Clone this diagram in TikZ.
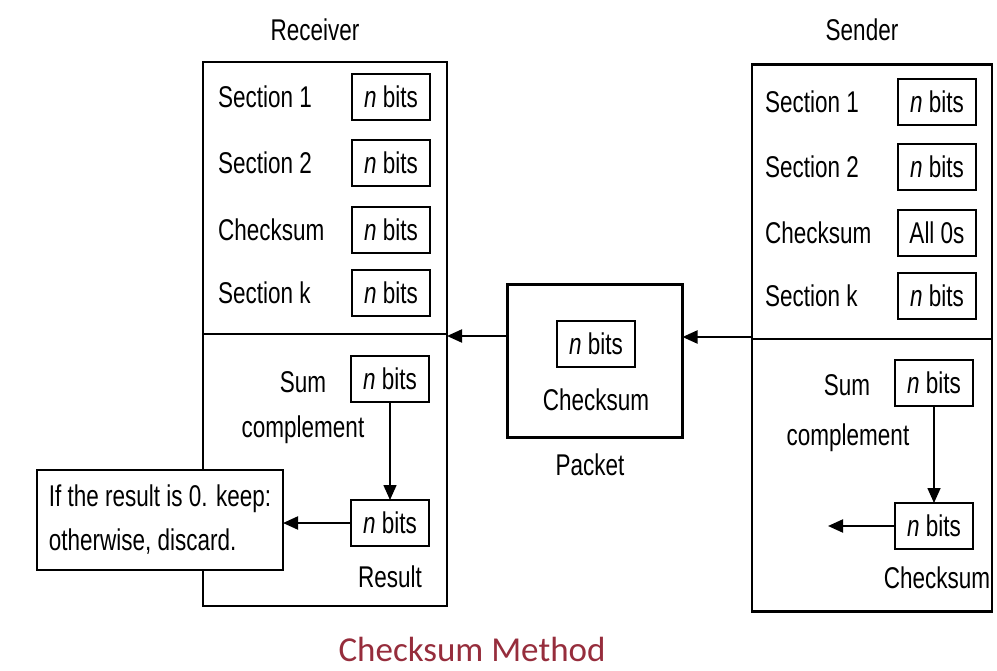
\documentclass[tikz,border=0pt]{standalone}
\usepackage{fontspec}
\setmainfont{Liberation Sans}[FakeStretch=0.75]
\newfontfamily\captionfont{Carlito}
\usetikzlibrary{arrows.meta}
\definecolor{CaptionRed}{RGB}{150,45,60}

\begin{document}
\begin{tikzpicture}[x=1pt,y=-1pt]
  \tikzset{PanelStyle/.style = {
    shape         = rectangle,
    draw          = black,
    line width    = 2.4pt,
    inner sep     = 0pt,
    outer sep     = 0pt
    }
  }
  \tikzset{BitsStyle/.style = {
    shape         = rectangle,
    draw          = black,
    fill          = white,
    line width    = 2.2pt,
    text          = black,
    inner sep     = 0pt,
    outer sep     = 0pt,
    minimum width = 78pt,
    minimum height= 46pt,
    font          = \fontsize{30}{34}\selectfont
    }
  }
  \tikzset{LabelStyle/.style = {
    inner sep     = 0pt,
    text          = black,
    font          = \fontsize{30}{34}\selectfont
    }
  }
  \tikzset{ArrowStyle/.style = {
    draw          = black,
    line width    = 2pt,
    -{Triangle[length=15pt,width=13pt]}
    }
  }
  \useasboundingbox (0,0) rectangle (997,671);

  % receiver side
  \node[LabelStyle](RecvTitle) at (315,30) {Receiver};
  \node[PanelStyle, minimum width=244pt, minimum height=544pt](Recv) at (325,334) {};
  \draw[line width=2.4pt] (Recv.west |- 0,334) -- (Recv.east |- 0,334);
  \node[LabelStyle, anchor=west](RS1) at (218,97) {Section 1};
  \node[LabelStyle, anchor=west](RS2) at (218,163) {Section 2};
  \node[LabelStyle, anchor=west](RCk) at (218,230) {Checksum};
  \node[LabelStyle, anchor=west](RSk) at (218,293) {Section k};
  \node[BitsStyle](RB1) at (391,97) {\textit{n} bits};
  \node[BitsStyle](RB2) at (391,163) {\textit{n} bits};
  \node[BitsStyle](RB3) at (391,230) {\textit{n} bits};
  \node[BitsStyle](RB4) at (391,293) {\textit{n} bits};
  \node[LabelStyle](RSum) at (303,382) {Sum};
  \node[LabelStyle](RComp) at (303,430) {complement};
  \node[BitsStyle](RSumBox) at (390,379) {\textit{n} bits};
  \node[BitsStyle](RResBox) at (390,523) {\textit{n} bits};
  \node[LabelStyle](RRes) at (390,577) {Result};
  \node[PanelStyle, fill=white, minimum width=246pt, minimum height=100pt,
    align=left, font=\fontsize{30}{44}\selectfont](Decide) at (160,520)
    {If the result is 0. keep:\\otherwise, discard.};

  % packet
  \node[PanelStyle, minimum width=175pt, minimum height=153pt](Packet) at (595,361) {};
  \node[BitsStyle](PBits) at (596,344) {\textit{n} bits};
  \node[LabelStyle](PCk) at (596,400) {Checksum};
  \node[LabelStyle](PTitle) at (590,465) {Packet};

  % sender side
  \node[LabelStyle](SendTitle) at (862,30) {Sender};
  \node[PanelStyle, minimum width=240pt, minimum height=547pt](Send) at (872,338) {};
  \draw[line width=2.4pt] (Send.west |- 0,339) -- (Send.east |- 0,339);
  \node[LabelStyle, anchor=west](SS1) at (765,102) {Section 1};
  \node[LabelStyle, anchor=west](SS2) at (765,167) {Section 2};
  \node[LabelStyle, anchor=west](SCk) at (765,233) {Checksum};
  \node[LabelStyle, anchor=west](SSk) at (765,296) {Section k};
  \node[BitsStyle](SB1) at (937,102) {\textit{n} bits};
  \node[BitsStyle](SB2) at (937,167) {\textit{n} bits};
  \node[BitsStyle](SB3) at (937,233) {All 0s};
  \node[BitsStyle](SB4) at (937,296) {\textit{n} bits};
  \node[LabelStyle](SSum) at (847,385) {Sum};
  \node[LabelStyle](SComp) at (848,438) {complement};
  \node[BitsStyle](SSumBox) at (934,383) {\textit{n} bits};
  \node[BitsStyle](SCkBox) at (934,526) {\textit{n} bits};
  \node[LabelStyle](SCkLabel) at (937,578) {Checksum};
  \coordinate (SOut) at (828,526);

  % arrows
  \coordinate (SendIn) at (Send.west |- 0,337);
  \coordinate (RecvIn) at (Recv.east |- 0,336);
  \draw[ArrowStyle](SendIn) -- (Packet.east |- SendIn);
  \draw[ArrowStyle](Packet.west |- RecvIn) -- (RecvIn);
  \draw[ArrowStyle, line width=1.6pt](RSumBox) -- (RResBox);
  \draw[ArrowStyle](RResBox.west) -- (RResBox.west -| Decide.east);
  \draw[ArrowStyle, line width=1.6pt](SSumBox) -- (SCkBox);
  \draw[ArrowStyle](SCkBox) -- (SOut);

  \node[text=CaptionRed, inner sep=0pt, anchor=base, font=\captionfont\fontsize{35}{38}\selectfont](Caption) at (472,661) {Checksum Method};

\end{tikzpicture}
\end{document}
